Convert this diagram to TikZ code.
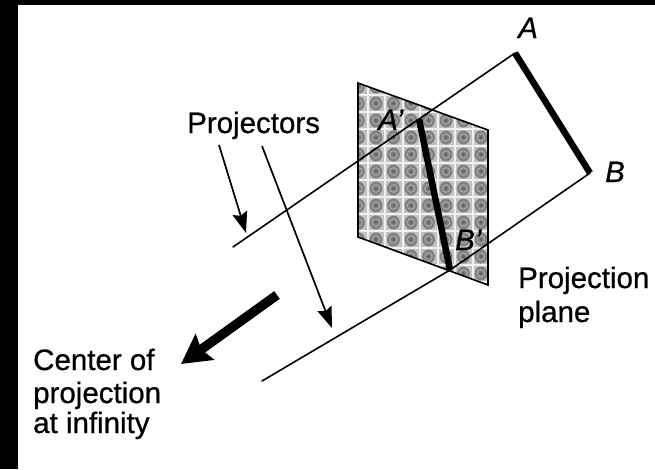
\documentclass[tikz,border=0pt]{standalone}
\usepackage{fontspec}
\setmainfont{Liberation Sans}[RawFeature={embolden=0.7}]
\usetikzlibrary{arrows.meta}
\definecolor{screenbg}{gray}{0.76}
\definecolor{dotdark}{gray}{0.50}
\definecolor{dotring}{gray}{0.66}
\definecolor{dotcore}{gray}{0.38}
\definecolor{gridlight}{gray}{0.94}
\tikzset{
  lbl/.style={anchor=base west,inner sep=0pt,font=\fontsize{29.5}{31}\selectfont},
  ital/.style={anchor=base west,inner sep=0pt,font=\fontsize{29.5}{31}\selectfont\itshape},
  projector/.style={line width=1.6pt,line cap=round,line join=round},
  segment/.style={line width=6.5pt,line cap=butt},
  pointer/.style={line width=1.7pt,-{Stealth[length=21pt,width=15pt,inset=3pt]}},
  bigarrow/.style={line width=9.5pt,-{Stealth[length=29pt,width=31pt,inset=4pt]}},
  edge/.style={line width=1.6pt,line join=miter}
}
\begin{document}
\begin{tikzpicture}[x=1pt,y=-1pt]
\useasboundingbox (0,0) rectangle (655,469);
\fill[white] (0,0) rectangle (655,469);
\fill[black] (0,0) rectangle (18,469);
\fill[black] (0,0) rectangle (655,5);
% named points
\coordinate (A) at (515,53);
\coordinate (B) at (590,173);
\coordinate (Ap) at (419,119);
\coordinate (Bp) at (450,270);
\coordinate (P1) at (233,247);
\coordinate (P2) at (262,381);
\coordinate (TL) at (358,83);
\coordinate (TR) at (488,130);
\coordinate (BR) at (488,285);
\coordinate (BL) at (358,237);
% screened plane
\begin{scope}
\clip (TL) -- (TR) -- (BR) -- (BL) -- cycle;
\fill[screenbg] (350,75) rectangle (495,295);
\foreach \i in {0,...,8}{
  \draw[gridlight,line width=2pt] ({350+17.5*\i},75) -- ({350+17.5*\i},295);
}
\foreach \j in {0,...,12}{
  \draw[gridlight,line width=2pt] (350,{78+17*\j}) -- (495,{78+17*\j});
}
\foreach \i in {0,...,8}{
  \foreach \j in {0,...,12}{
    \fill[dotdark] ({358.5+17.5*\i},{86.5+17*\j}) ellipse (6.4pt and 7pt);
    \draw[dotring,line width=1pt] ({358.5+17.5*\i},{86.5+17*\j}) circle (3.8pt);
    \fill[dotcore] ({358.5+17.5*\i},{86.5+17*\j}) circle (1.6pt);
  }
}
\end{scope}
\draw[edge] (TL) -- (TR) -- (BR) -- (BL) -- cycle;
% projectors
\draw[projector] (A) -- (Ap) -- (P1);
\draw[projector] (B) -- (Bp) -- (P2);
% segments
\draw[segment] (A) -- (B);
\draw[segment] (Ap) -- (Bp);
% labels
\node[lbl] (tProj) at (187,133) {Projectors};
\node[lbl] (tPlane1) at (518,288) {Projection};
\node[lbl] (tPlane2) at (518,322) {plane};
\node[lbl] (tC1) at (33,370) {Center of};
\node[lbl] (tC2) at (33,403) {projection};
\node[lbl] (tC3) at (33,433) {at infinity};
\node[ital] (lA) at (518,38) {A};
\node[ital] (lB) at (605,182) {B};
\node[ital] (lAp) at (378,130) {A'};
\node[ital] (lBp) at (455,250) {B'};
% pointers
\coordinate (S1) at (219,145);
\coordinate (T1) at (246,233);
\coordinate (S2) at (262,146);
\coordinate (T2) at (332,328);
\draw[pointer] (S1) -- (T1);
\draw[pointer] (S2) -- (T2);
\coordinate (S3) at (277,295);
\coordinate (T3) at (181,364);
\draw[bigarrow] (S3) -- (T3);
\end{tikzpicture}
\end{document}
